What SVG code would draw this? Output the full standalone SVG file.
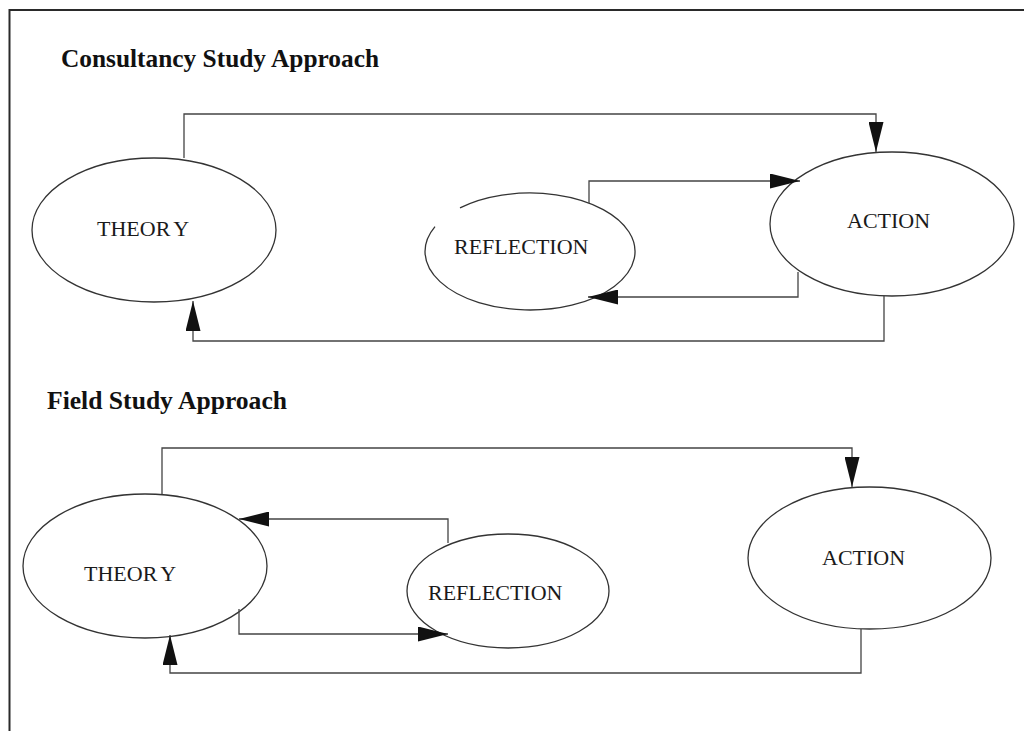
<svg xmlns="http://www.w3.org/2000/svg" width="1024" height="731" viewBox="0 0 1024 731">
  <style>
    .bg { fill: #ffffff; }
    .frame { fill: none; stroke: #2a2a2a; stroke-width: 2; }
    .node { fill: #ffffff; stroke: #333333; stroke-width: 1.3; }
    .link { fill: none; stroke: #444444; stroke-width: 1.3; }
    .label { font-family: "Liberation Serif", "Times New Roman", serif; font-size: 22px; fill: #1a1a1a; }
    .title { font-family: "Liberation Serif", "Times New Roman", serif; font-size: 25.5px; font-weight: bold; fill: #111111; }
  </style>
  <defs>
    <marker id="arrow" markerUnits="userSpaceOnUse" markerWidth="30" markerHeight="15" refX="30" refY="7.5" orient="auto">
      <path d="M0,0 L30,7.5 L0,15 Z" fill="#111111"/>
    </marker>
  </defs>

  <rect class="bg" x="0" y="0" width="1024" height="731"/>
  <!-- open page frame: top and left edges -->
  <path class="frame" d="M9.5,731 L9.5,10 L1024,10"/>

  <text class="title" x="61" y="67" textLength="318" lengthAdjust="spacingAndGlyphs">Consultancy Study Approach</text>
  <text class="title" x="47" y="409" textLength="240" lengthAdjust="spacingAndGlyphs">Field Study Approach</text>

  <!-- upper cycle -->
  <g id="c-theory">
    <ellipse class="node" cx="154" cy="230" rx="122" ry="72"/>
    <text class="label" x="97" y="236">THEOR<tspan dx="4">Y</tspan></text>
  </g>
  <g id="c-reflection">
    <path class="node" d="M460,207.9 A105,58.5 0 1 1 435,226.6"/>
    <text class="label" x="454" y="254">REFLECTION</text>
  </g>
  <g id="c-action">
    <ellipse class="node" cx="892" cy="224" rx="122" ry="72"/>
    <text class="label" x="847" y="228">ACTION</text>
  </g>

  <!-- lower cycle -->
  <g id="f-theory">
    <ellipse class="node" cx="145" cy="566" rx="122" ry="72"/>
    <text class="label" x="84" y="581">THEOR<tspan dx="4">Y</tspan></text>
  </g>
  <g id="f-reflection">
    <ellipse class="node" cx="508" cy="591" rx="101" ry="57"/>
    <text class="label" x="428" y="600">REFLECTION</text>
  </g>
  <g id="f-action">
    <ellipse class="node" cx="869.5" cy="558" rx="121.5" ry="71"/>
    <text class="label" x="822" y="565">ACTION</text>
  </g>

  <g id="connectors">
    <!-- upper cycle -->
    <path class="link" d="M184,158 L184,114 L876,114 L876,152" marker-end="url(#arrow)"/>
    <path class="link" d="M589,203 L589,181 L800,181" marker-end="url(#arrow)"/>
    <path class="link" d="M798,272 L798,297 L588,297" marker-end="url(#arrow)"/>
    <path class="link" d="M884,296 L884,341 L193,341 L193,301" marker-end="url(#arrow)"/>
    <!-- lower cycle -->
    <path class="link" d="M162,494 L162,448 L852,448 L852,487" marker-end="url(#arrow)"/>
    <path class="link" d="M448,543 L448,519 L239,519" marker-end="url(#arrow)"/>
    <path class="link" d="M239,609 L239,634 L448,634" marker-end="url(#arrow)"/>
    <path class="link" d="M861,629 L861,673 L170,673 L170,635" marker-end="url(#arrow)"/>
  </g>
</svg>
